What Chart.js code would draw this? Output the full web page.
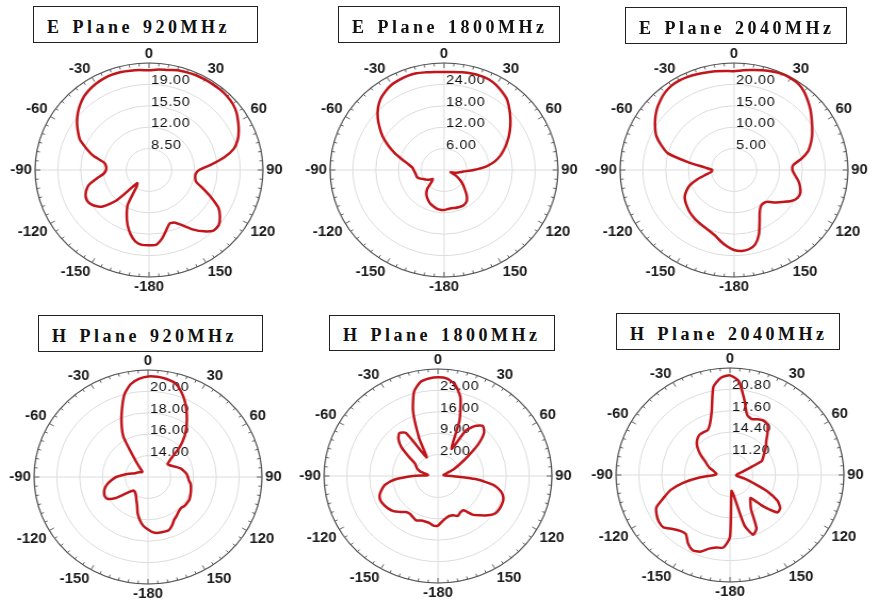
<!DOCTYPE html>
<html>
<head>
<meta charset="utf-8">
<script src="https://cdn.jsdelivr.net/npm/chart.js@4/dist/chart.umd.min.js"></script>
<style>
  html, body { margin: 0; padding: 0; background: #fff; }
  #stage { position: relative; width: 873px; height: 602px; overflow: hidden; background: #fff; }
  .panel { position: absolute; width: 290px; height: 262px; transform: scaleX(1.065); transform-origin: 145px 131px; }
  .panel canvas { display: block; }
  .title {
    position: absolute; box-sizing: border-box; border: 1.5px solid #222; background: #fff;
    font-family: "Liberation Serif", "Times New Roman", serif; font-weight: bold; font-size: 18px;
    letter-spacing: 3.5px; word-spacing: 2px; color: #111; white-space: nowrap;
    display: flex; align-items: center; padding-left: 13px; padding-top: 5px; z-index: 2;
  }
</style>
</head>
<body>
<div id="stage"></div>
<script>
// Azimuth of every sample, degrees clockwise from the top
const angleLabels = [0,5,10,15,20,25,30,35,40,45,50,55,60,65,70,75,80,85,90,95,100,105,110,115,
  120,125,130,135,140,145,150,155,160,165,170,175,180,185,190,195,200,205,210,215,220,225,230,235,
  240,245,250,255,260,265,270,275,280,285,290,295,300,305,310,315,320,325,330,335,340,345,350,355];

// Angle tick positions and the text printed at each
const angleTicks = [0, 30, 60, 90, 120, 150, 180, 210, 240, 270, 300, 330];
const angleTickText = ['0', '30', '60', '90', '120', '150', '-180', '-150', '-120', '-90', '-60', '-30'];

// Panel titles
const titles = ['E Plane 920MHz', 'E Plane 1800MHz', 'E Plane 2040MHz',
                'H Plane 920MHz', 'H Plane 1800MHz', 'H Plane 2040MHz'];

// Radial rings (centre value first, rim value last)
const ringsE920  = [5, 8.5, 12, 15.5, 19, 22.5];
const ringsE1800 = [0, 6, 12, 18, 24, 30];
const ringsE2040 = [0, 5, 10, 15, 20, 25];
const ringsH920  = [12, 14, 16, 18, 20, 22];
const ringsH1800 = [-5, 2, 9, 16, 23, 30];
const ringsH2040 = [8, 11.2, 14.4, 17.6, 20.8, 24];

// Measured patterns, one value per azimuth above
const gainE920 = [21.3,21.5,21.6,21.9,22.0,22.1,22.1,22.1, 22.1,22.0,21.8,21.4,20.8,20.2,19.5,18.5,
  16.7,14.5,12.7,12.2,12.2,12.5,13.8,15.5, 17.3,18.3,19.0,19.0,18.1,16.9,15.5,14.5,
  14.3,15.2,16.4,17.3,17.3,17.3,16.9,15.9, 14.6,13.1,11.5,8.3,7.8,12.0,14.3,15.2,
  15.7,15.7,15.3,14.6,13.2,12.0,11.6,11.6, 12.0,13.8,15.2,16.7,17.6,18.5,19.3,20.0,
  20.6,21.0,21.3,21.5,21.6,21.6,21.5,21.4];

const gainE1800 = [27.5,27.6,27.8,28.0,28.1,28.0,27.5,26.7, 25.8,24.3,22.8,21.3,19.8,18.3,16.8,15.3,
  13.5,11.1,7.8,5.1,3.9,3.0,1.8,3.0, 4.2,5.4,6.6,7.8,9.3,10.5,11.0,11.2,
  11.1,11.0,10.9,11.0,11.2,11.2,11.0,10.6, 10.2,9.6,8.9,8.1,6.8,4.5,3.9,4.8,
  5.4,6.0,6.9,7.4,7.5,7.7,8.0,8.4, 9.6,11.4,13.8,16.2,18.6,20.7,22.8,24.6,
  26.0,26.9,27.6,27.9,28.1,28.1,27.8,27.6];

const gainE2040 = [23.1,23.4,23.7,24.1,24.5,24.8,24.8,24.6, 23.9,22.9,21.9,20.8,19.8,18.9,17.9,16.8,
  15.0,13.0,12.8,13.4,14.3,15.0,15.5,15.4, 14.5,13.0,11.8,10.5,10.1,10.3,11.3,13.3,
  16.0,18.0,18.8,19.0,18.7,17.9,16.9,15.9, 15.3,14.9,14.6,14.4,14.1,13.8,13.4,13.0,
  12.5,11.5,10.3,8.3,6.3,5.0,4.8,6.3, 10.0,15.0,17.0,18.8,20.0,21.1,22.1,22.9,
  23.6,24.0,24.1,24.0,23.8,23.6,23.4,23.2];

const gainH920 = [21.4,21.4,21.3,21.1,20.5,19.7,18.8,17.9, 17.0,15.9,14.6,14.1,14.2,14.4,14.7,15.0,
  15.2,15.4,15.5,15.6,15.8,15.9,16.0,16.1, 16.2,16.2,16.2,16.1,16.2,16.4,16.6,17.0,
  17.3,17.3,17.3,17.2,16.9,16.6,16.1,15.5, 14.8,14.4,14.1,13.9,13.8,13.8,14.2,15.4,
  16.1,16.2,16.1,15.9,15.6,15.2,14.8,14.2, 13.7,13.3,13.1,13.0,12.9,12.8,12.7,12.7,
  13.1,14.0,16.3,17.5,18.7,20.0,20.8,21.2];

const gainH1800 = [27.3,27.0,25.3,21.6,14.3,4.8,12.2,15.0, 16.4,15.0,11.1,6.2,2.7,0.3,-1.9,-2.9,
  -3.3,-2.9,-0.8,6.6,12.5,15.1,16.4,16.7, 16.7,16.4,15.0,13.2,11.5,8.7,8.7,9.4,
  8.7,8.5,9.0,9.9,11.2,11.3,10.6,10.4, 10.5,11.0,10.5,10.1,10.4,11.6,12.9,13.6,
  14.1,14.4,14.1,13.0,11.5,8.3,2.7,-1.9, -1.5,0.6,1.7,2.4,3.2,5.9,9.7,12.2,
  13.4,12.2,2.0,8.7,17.4,23.5,26.2,27.0];

const gainH2040 = [22.9,22.1,19.5,17.3,16.9,17.2,17.4,17.2, 16.2,15.2,14.6,13.9,13.4,12.9,10.6,9.8,
  9.2,9.0,8.9,8.9,9.1,10.2,11.4,13.8, 15.7,16.6,16.7,14.7,12.5,13.0,13.9,16.8,
  17.5,15.8,11.2,10.4,17.3,18.9,19.0,19.4, 20.2,20.4,19.8,18.8,18.9,19.4,20.2,20.2,
  19.9,19.4,17.9,16.6,14.7,12.3,10.2,9.9, 10.1,10.4,11.0,11.5,12.0,12.9,13.8,14.6,
  15.1,15.4,15.4,15.4,16.2,17.9,21.4,22.6];

// Layout of the six panels: polar centre on the page and title box
const panels = [
  { title: titles[0], gain: gainE920,  rings: ringsE920,  cx: 149, cy: 170, box: [33, 6, 225, 37] },
  { title: titles[1], gain: gainE1800, rings: ringsE1800, cx: 444, cy: 170, box: [338, 6, 222, 37] },
  { title: titles[2], gain: gainE2040, rings: ringsE2040, cx: 734, cy: 170, box: [625, 7, 222, 37] },
  { title: titles[3], gain: gainH920,  rings: ringsH920,  cx: 148, cy: 477, box: [38, 315, 225, 37] },
  { title: titles[4], gain: gainH1800, rings: ringsH1800, cx: 438, cy: 476, box: [329, 315, 226, 36] },
  { title: titles[5], gain: gainH2040, rings: ringsH2040, cx: 730, cy: 475, box: [616, 313, 224, 37] }
];

// Rim with protractor ticks, angle labels and ring values
const rimDecor = {
  id: 'rimDecor',
  beforeDatasetsDraw(chart, args, opts) {
    const s = chart.scales.r;
    const ctx = chart.ctx;
    const R = s.drawingArea;
    const labels = chart.data.labels;
    ctx.save();

    ctx.strokeStyle = '#505050';
    ctx.lineWidth = 1.2;
    ctx.beginPath();
    ctx.arc(s.xCenter, s.yCenter, R, 0, Math.PI * 2);
    ctx.stroke();

    ctx.lineWidth = 0.9;
    labels.forEach((a, i) => {
      const len = a % 30 === 0 ? 5 : 3;
      const p0 = s.getPointPosition(i, R);
      const p1 = s.getPointPosition(i, R - len);
      ctx.beginPath();
      ctx.moveTo(p0.x, p0.y);
      ctx.lineTo(p1.x, p1.y);
      ctx.stroke();
    });

    ctx.fillStyle = '#1c1c1c';
    ctx.font = 'bold 14px "Liberation Sans", Arial, sans-serif';
    ctx.textBaseline = 'middle';
    labels.forEach((a, i) => {
      const k = angleTicks.indexOf(a);
      if (k < 0) return;
      const p = s.getPointPosition(i, R + 3);
      let dy = 0;
      if (a < 90 || a > 270) dy = -5.5;
      else if (a > 90 && a < 270) dy = 7;
      ctx.textAlign = (a === 0 || a === 180) ? 'center' : (a < 180 ? 'left' : 'right');
      ctx.fillText(angleTickText[k], p.x, p.y + dy);
    });

    const rings = opts.rings;
    ctx.font = '13.5px "Liberation Sans", Arial, sans-serif';
    ctx.letterSpacing = '0.6px';
    ctx.textAlign = 'left';
    ctx.textBaseline = 'alphabetic';
    ctx.fillStyle = '#0d0d0d';
    rings.forEach((v, k) => {
      if (k === 0 || k === rings.length - 1) return;
      const d = s.getDistanceFromCenterForValue(v);
      ctx.fillText(v.toFixed(2), s.xCenter + 2, s.yCenter - d);
    });
    ctx.restore();
  }
};

const stage = document.getElementById('stage');

panels.forEach(p => {
  const wrap = document.createElement('div');
  wrap.className = 'panel';
  wrap.style.left = (p.cx - 145) + 'px';
  wrap.style.top = (p.cy - 131) + 'px';
  const cv = document.createElement('canvas');
  cv.width = 290; cv.height = 262;
  cv.style.width = '290px'; cv.style.height = '262px';
  wrap.appendChild(cv);
  stage.appendChild(wrap);

  const lo = p.rings[0], hi = p.rings[p.rings.length - 1];
  new Chart(cv, {
    type: 'radar',
    data: {
      labels: angleLabels,
      datasets: [{
        data: p.gain,
        borderColor: '#c0151b',
        borderWidth: 2.5,
        backgroundColor: 'rgba(0,0,0,0)',
        fill: false,
        tension: 0.2,
        pointRadius: 0,
        pointHitRadius: 0
      }]
    },
    options: {
      responsive: false,
      animation: false,
      devicePixelRatio: 1,
      layout: { padding: { left: 38, right: 38, top: 24, bottom: 24 } },
      plugins: {
        legend: { display: false },
        tooltip: { enabled: false },
        rimDecor: { rings: p.rings }
      },
      scales: {
        r: {
          min: lo,
          max: hi,
          startAngle: 0,
          ticks: { display: false, stepSize: p.rings[1] - p.rings[0] },
          pointLabels: { display: false },
          grid: { circular: true, color: '#dcdcdc', lineWidth: 1 },
          angleLines: {
            display: true,
            color: '#dcdcdc',
            lineWidth: c => (angleLabels[c.index] % 90 === 0 ? 1 : 0)
          }
        }
      }
    },
    plugins: [rimDecor]
  });

  const t = document.createElement('div');
  t.className = 'title';
  t.style.left = p.box[0] + 'px';
  t.style.top = p.box[1] + 'px';
  t.style.width = p.box[2] + 'px';
  t.style.height = p.box[3] + 'px';
  t.textContent = p.title;
  stage.appendChild(t);
});
</script>
</body>
</html>
